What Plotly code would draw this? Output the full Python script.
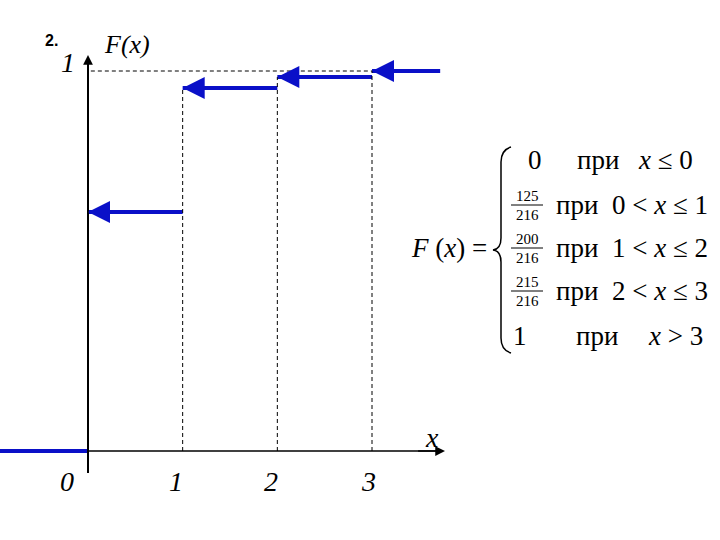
import plotly.graph_objects as go

# ---- data ----
x_steps = [0, 1, 2, 3]                 # jump points
F_levels = [0.0, 0.629, 0.955, 0.984, 1.0]  # step heights as drawn in the picture
x_left_end = -0.93
x_right_end = 3.72
tick_labels = ["0", "1", "2", "3"]
row_prefix = ["0", "125/216", "200/216", "215/216", "1"]
row_cond = ["<i>x</i> ≤ 0", "0 < <i>x</i> ≤ 1", "1 < <i>x</i> ≤ 2", "2 < <i>x</i> ≤ 3", "<i>x</i> > 3"]

# ---- pixel mapping helpers (margins 0) ----
W, H = 720, 540
X0, SX = 88, 94.67
Y0, SY = 451, 380
def px(x): return x / W
def py(y): return 1 - y / H

BLUE = "#0a10c8"
SERIF = "Liberation Serif, Times New Roman, serif"
DASH = "4px,3px"

fig = go.Figure()

# step segments
seg_x = [[x_left_end, x_steps[0]]]
seg_y = [[F_levels[0], F_levels[0]]]
for i in range(1, 5):
    xa = x_steps[i - 1]
    xb = x_steps[i] if i < 4 else x_right_end
    seg_x.append([xa, xb])
    seg_y.append([F_levels[i], F_levels[i]])
for sx, sy in zip(seg_x, seg_y):
    fig.add_trace(go.Scatter(x=sx, y=sy, mode="lines", line=dict(color=BLUE, width=4),
                             showlegend=False, hoverinfo="skip"))

# dashed guides
for i in range(1, 4):
    fig.add_trace(go.Scatter(x=[x_steps[i], x_steps[i]], y=[0, F_levels[i + 1]], mode="lines",
                             line=dict(color="black", width=1, dash=DASH),
                             showlegend=False, hoverinfo="skip"))
fig.add_trace(go.Scatter(x=[0.03, x_steps[3]], y=[1, 1], mode="lines",
                         line=dict(color="black", width=1, dash=DASH),
                         showlegend=False, hoverinfo="skip"))

# axes lines
y_top = (Y0 - 55) / SY
y_bot = (Y0 - 473) / SY
x_axis_end = (445 - X0) / SX
fig.add_trace(go.Scatter(x=[0, 0], y=[y_bot, y_top - 0.02], mode="lines",
                         line=dict(color="black", width=2), showlegend=False, hoverinfo="skip"))
fig.add_trace(go.Scatter(x=[0, x_axis_end - 0.05], y=[0, 0], mode="lines",
                         line=dict(color="black", width=1.5), showlegend=False, hoverinfo="skip"))

ann = []
# axis arrowheads
ann.append(dict(x=0, y=y_top, ax=0, ay=y_top - 0.08, xref="x", yref="y", axref="x", ayref="y",
                showarrow=True, arrowhead=2, arrowsize=1.3, arrowwidth=1.5, arrowcolor="black", text=""))
ann.append(dict(x=x_axis_end, y=0, ax=x_axis_end - 0.3, ay=0, xref="x", yref="y", axref="x", ayref="y",
                showarrow=True, arrowhead=2, arrowsize=1.3, arrowwidth=1.5, arrowcolor="black", text=""))
# blue arrowheads (left ends of each level segment)
for i in range(1, 5):
    xa = x_steps[i - 1]
    ann.append(dict(x=xa, y=F_levels[i], ax=xa + 0.4, ay=F_levels[i], xref="x", yref="y",
                    axref="x", ayref="y", showarrow=True, arrowhead=2, arrowsize=1.1,
                    arrowwidth=4, arrowcolor=BLUE, text="", standoff=0))

def txt(x, y, text, size, family=SERIF, xanchor="center"):
    return dict(x=px(x), y=py(y), xref="paper", yref="paper", text=text, showarrow=False,
                xanchor=xanchor, yanchor="middle", font=dict(family=family, size=size, color="black"))

# tick labels
tick_px = [67, 176, 271, 369]
for lab, tx in zip(tick_labels, tick_px):
    ann.append(txt(tx, 481, "<i>" + lab + "</i>", 28))
ann.append(txt(68, 62, "<i>1</i>", 28))
ann.append(txt(127, 44, "<i>F(x)</i>", 26))
ann.append(txt(432, 437, "<i>x</i>", 28))
ann.append(txt(52, 40, "<b>2.</b>", 16, family="Liberation Sans, Arial, sans-serif"))

# formula
ann.append(txt(489, 248, "<i>F</i> (<i>x</i>) =", 27, xanchor="right"))
row_y = [160, 205, 248, 291, 336]
pri_x = [598, 577, 577, 577, 597]
cond_x = [665, 660, 660, 660, 675]
shapes = []
for k in range(5):
    yy = row_y[k]
    pref = row_prefix[k]
    if "/" in pref:
        num, den = pref.split("/")
        ann.append(txt(527, yy - 9, num, 15))
        ann.append(txt(527, yy + 10, den, 15))
        shapes.append(dict(type="line", xref="paper", yref="paper", x0=px(511), x1=px(543),
                           y0=py(yy), y1=py(yy), line=dict(color="black", width=1)))
    else:
        cx = 535 if k == 0 else 520
        ann.append(txt(cx, yy, pref, 27))
    ann.append(txt(pri_x[k], yy, "при", 27))
    ann.append(txt(cond_x[k], yy, row_cond[k], 27))

# brace
pts = [(511, 147), (501, 150), (501, 162), (501, 238), (501, 249), (493, 250), (501, 251), (501, 262),
       (501, 338), (501, 350), (511, 353)]
P = [f"{px(a):.5f},{py(b):.5f}" for a, b in pts]
path = (f"M {P[0]} Q {P[1]} {P[2]} L {P[3]} Q {P[4]} {P[5]} Q {P[6]} {P[7]} "
        f"L {P[8]} Q {P[9]} {P[10]}")
shapes.append(dict(type="path", xref="paper", yref="paper", path=path,
                   line=dict(color="black", width=1.5)))

fig.update_layout(
    width=W, height=H, margin=dict(l=0, r=0, t=0, b=0),
    paper_bgcolor="white", plot_bgcolor="white",
    xaxis=dict(range=[(0 - X0) / SX, (W - X0) / SX], visible=False, fixedrange=True),
    yaxis=dict(range=[(Y0 - H) / SY, Y0 / SY], visible=False, fixedrange=True),
    annotations=ann, shapes=shapes, showlegend=False,
)
fig.write_html("out.html", config={"displayModeBar": False},
               post_script="document.body.style.margin='0';")
